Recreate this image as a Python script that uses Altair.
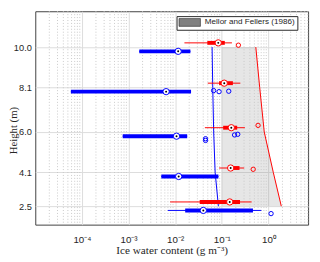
import altair as alt
import pandas as pd

# ---- data ----
heights = [2.5, 4.1, 6.0, 8.1, 10.0]

# red box plots (upper row at each height)
red_y = [2.7, 4.3, 6.2, 8.3, 10.2]
red_wlo = [0.0078, 0.0875, 0.0434, 0.050, 0.0158]
red_q1 = [0.0336, 0.138, 0.107, 0.0875, 0.049]
red_med = [0.148, 0.155, 0.160, 0.113, 0.084]
red_q3 = [0.246, 0.240, 0.214, 0.173, 0.116]
red_whi = [0.437, 0.303, 0.313, 0.250, 0.165]
red_out_x = [0.472, 0.60, 0.227]
red_out_y = [4.24, 6.31, 10.09]

# blue box plots (lower row at each height)
blue_y = [2.3, 3.9, 5.8, 7.9, 9.8]
blue_wlo = [0.00695, 0.00505, 0.00075, 0.000058, 0.0017]
blue_q1 = [0.0164, 0.00505, 0.00075, 0.000058, 0.0017]
blue_med = [0.0402, 0.0119, 0.0107, 0.0064, 0.0116]
blue_q3 = [0.466, 0.0846, 0.0181, 0.0219, 0.0212]
blue_whi = [0.706, 0.0846, 0.0181, 0.0219, 0.0212]
blue_out_x = [1.14, 0.0448, 0.0448, 0.188, 0.22, 0.0667, 0.0875, 0.141]
blue_out_y = [2.15, 5.68, 5.60, 5.86, 5.89, 7.95, 7.90, 7.92]

# profile lines and Mellor and Fellers (1986) band
line_h = [2.5, 4.1, 6.0, 8.1, 10.0]
blue_line = [0.0846, 0.072, 0.067, 0.064, 0.062]
red_line = [1.89, 1.27, 0.814, 0.65, 0.537]
mf_lower = [0.1, 0.1, 0.1, 0.1, 0.1]
mf_upper = [1.89, 1.27, 0.814, 0.65, 0.537]
mf_label = "Mellor and Fellers (1986)"

x_ticks = [1e-4, 1e-3, 1e-2, 1e-1, 1]

# ---- frames ----
red_df = pd.DataFrame(dict(y=red_y, wlo=red_wlo, q1=red_q1, med=red_med, q3=red_q3, whi=red_whi))
blue_df = pd.DataFrame(dict(y=blue_y, wlo=blue_wlo, q1=blue_q1, med=blue_med, q3=blue_q3, whi=blue_whi))
red_out = pd.DataFrame(dict(x=red_out_x, y=red_out_y))
blue_out = pd.DataFrame(dict(x=blue_out_x, y=blue_out_y))
lines_df = pd.DataFrame(dict(h=line_h, b=blue_line, r=red_line))
band_df = pd.DataFrame(dict(h=line_h, lo=mf_lower, hi=mf_upper, src=[mf_label] * len(line_h)))
minor_df = pd.DataFrame(dict(v=[m * 10.0 ** e for e in range(-5, 1) for m in range(2, 10) if m * 10.0 ** e <= 7.1]))

xs = alt.Scale(type="log", domain=[1e-5, 7.1], nice=False)
ys = alt.Scale(domain=[1.63, 11.69], nice=False, zero=False)

FONT = "Liberation Sans"
SERIF = "Liberation Serif"

x_axis = alt.Axis(
    values=x_ticks,
    labelExpr="'10' + ['\u207b\u2074','\u207b\u00b3','\u207b\u00b2','\u207b\u00b9','\u2070'][round(log(datum.value)/LN10)+4]",
    title="Ice water content (g m\u207b\u00b3)",
    titleFont=SERIF, titleFontSize=11.5, titleFontWeight="normal", titleColor="#262626",
    titleY=30, titleBaseline="alphabetic",
    labelFont=FONT, labelFontSize=10, labelColor="#262626", labelPadding=10,
    ticks=False, tickSize=0, domain=False,
    grid=True, gridColor="#dcdcdc", gridWidth=1, labelFlush=False,
)
y_axis = alt.Axis(
    values=heights, format=".1f",
    title="Height (m)",
    titleFont=SERIF, titleFontSize=11, titleFontWeight="normal", titleColor="#262626",
    titleAngle=-90, titleX=-22, titleY=122, titleAlign="center", titleBaseline="middle",
    labelFont=FONT, labelFontSize=9.5, labelColor="#262626", labelPadding=4,
    ticks=False, tickSize=0, domain=False,
    grid=True, gridColor="#dcdcdc", gridWidth=1,
)


def X(field):
    return alt.X(field, scale=xs, axis=x_axis)


def Y(field):
    return alt.Y(field, scale=ys, axis=y_axis)


band = alt.Chart(band_df).mark_area(orient="horizontal", opacity=0.2).encode(
    y=Y("h:Q"),
    x=X("lo:Q"),
    x2="hi:Q",
    color=alt.Color(
        "src:N",
        scale=alt.Scale(range=["#808080"]),
        legend=alt.Legend(
            title=None, orient="none", legendX=145, legendY=5,
            padding=2, strokeColor="#262626", fillColor="white",
            symbolType="M-1,-1H4.5V1H-1Z", symbolSize=64,
            symbolFillColor="#808080", symbolOpacity=1,
            symbolStrokeColor="#262626", symbolStrokeWidth=0.6,
            labelFont=FONT, labelFontSize=8.3, labelColor="#262626", labelOffset=18,
        ),
    ),
)

minor = alt.Chart(minor_df).mark_rule(color="#c8c8c8", strokeWidth=1, strokeDash=[1, 2]).encode(
    x=X("v:Q")
)

blue_ln = alt.Chart(lines_df).mark_line(color="#0000ff", strokeWidth=1).encode(
    x=X("b:Q"), y=Y("h:Q"), order="h:Q"
)
red_ln = alt.Chart(lines_df).mark_line(color="#ff0000", strokeWidth=1).encode(
    x=X("r:Q"), y=Y("h:Q"), order="h:Q"
)


def box_layers(df, out, color):
    base = alt.Chart(df)
    whisk = base.mark_rule(color=color, strokeWidth=1).encode(x=X("wlo:Q"), x2="whi:Q", y=Y("y:Q"))
    box = base.mark_rule(color=color, strokeWidth=4).encode(x=X("q1:Q"), x2="q3:Q", y=Y("y:Q"))
    outl = alt.Chart(out).mark_point(shape="circle", filled=False, color=color, strokeWidth=1, size=20, opacity=1).encode(
        x=X("x:Q"), y=Y("y:Q"))
    med = base.mark_point(shape="circle", filled=True, fill="white", stroke=color, strokeWidth=1, size=42, opacity=1).encode(
        x=X("med:Q"), y=Y("y:Q"))
    dot = base.mark_point(shape="circle", filled=True, color="black", size=4, opacity=1).encode(
        x=X("med:Q"), y=Y("y:Q"))
    return [whisk, box, outl, med, dot]


chart = alt.layer(
    band, minor, blue_ln, red_ln,
    *box_layers(red_df, red_out, "#ff0000"),
    *box_layers(blue_df, blue_out, "#0000ff"),
).properties(
    width=280, height=219,
    autosize=alt.AutoSizeParams(type="none"),
    padding={"left": 28, "top": 0, "right": 4, "bottom": 35},
).configure_view(stroke="#404040", strokeWidth=1)

chart.save("out.html", embed_options={"renderer": "svg", "actions": False})
